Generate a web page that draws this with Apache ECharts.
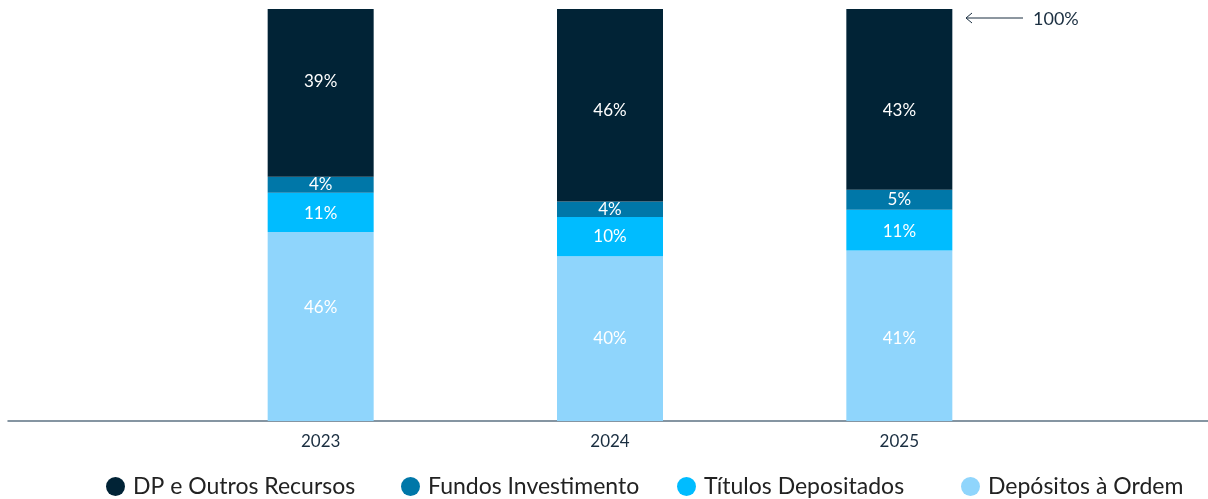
<!DOCTYPE html>
<html lang="pt">
<head>
  <meta charset="UTF-8">
  <title>Recursos</title>
  <script src="https://cdn.jsdelivr.net/npm/echarts@6/dist/echarts.min.js"></script>
</head>
<body style="margin:0">
  <div id="main" style="width:1208px;height:499px"></div>
  <script>
    // anos
    var years = ['2023', '2024', '2025']
    var depositosOrdem = [45.9, 40.0, 41.4]
    var titulosDepositados = [9.5, 9.5, 9.9]
    var fundosInvestimento = [3.9, 3.8, 4.8]
    var dpOutros = [40.7, 46.7, 43.9]
    var lblDepositos = ['46%', '40%', '41%']
    var lblTitulos = ['11%', '10%', '11%']
    var lblFundos = ['4%', '4%', '5%']
    var lblDp = ['39%', '46%', '43%']
    // deslocamento vertical dos rótulos (px), como no original
    var dyDepositos = [-19, 0, 3]
    var dyTitulos = [1, 0, 1]
    var dyFundos = [0, 0, 0]
    var dyDp = [-11, 5, 11]

    var font = 'Lato'
    var chart = echarts.init(document.getElementById('main'))

    function serie(name, data, labels, dy, color) {
      return {
        name: name,
        type: 'bar',
        stack: 'total',
        barWidth: 106,
        data: data.map(function (v, i) {
          return { value: v, label: { offset: [0, dy[i]] } }
        }),
        itemStyle: { color: color },
        label: {
          show: true,
          position: 'inside',
          color: '#fff',
          fontFamily: font,
          fontSize: 17,
          formatter: function (p) { return labels[p.dataIndex] }
        }
      }
    }

    function legenda(name, left) {
      return {
        data: [name],
        left: left,
        top: 475,
        padding: 0,
        icon: 'circle',
        itemWidth: 19,
        itemHeight: 19,
        textStyle: { fontFamily: font, fontSize: 23, color: '#222', padding: [0, 0, 0, 3] }
      }
    }

    var option = {
      animation: false,
      grid: [
        { left: 176, right: 164, top: 9, bottom: 78 },
        { left: 8, right: 0, top: 9, bottom: 78 }
      ],
      xAxis: [
        {
          type: 'category',
          data: years,
          gridIndex: 0,
          axisLine: { show: false },
          axisTick: { show: false },
          axisLabel: { fontFamily: font, fontSize: 17, color: '#1a2e40', margin: 12 }
        },
        {
          type: 'value',
          gridIndex: 1,
          axisLine: { show: true, lineStyle: { color: '#5e7384', width: 1.5 } },
          axisTick: { show: false },
          axisLabel: { show: false },
          splitLine: { show: false }
        }
      ],
      yAxis: [
        { type: 'value', min: 0, max: 100, show: false, gridIndex: 0 },
        { type: 'value', show: false, gridIndex: 1 }
      ],
      legend: [
        legenda('DP e Outros Recursos', 106),
        legenda('Fundos Investimento', 401),
        legenda('Títulos Depositados', 677),
        legenda('Depósitos à Ordem', 961)
      ],
      series: [
        serie('Depósitos à Ordem', depositosOrdem, lblDepositos, dyDepositos, '#8fd5fc'),
        serie('Títulos Depositados', titulosDepositados, lblTitulos, dyTitulos, '#00bcff'),
        serie('Fundos Investimento', fundosInvestimento, lblFundos, dyFundos, '#0077a8'),
        serie('DP e Outros Recursos', dpOutros, lblDp, dyDp, '#012336')
      ],
      graphic: [
        {
          type: 'line',
          shape: { x1: 966, y1: 18, x2: 1023, y2: 18 },
          style: { stroke: '#1a2e40', lineWidth: 1 }
        },
        {
          type: 'polyline',
          shape: { points: [[972, 13], [966, 18], [972, 23]] },
          style: { stroke: '#1a2e40', lineWidth: 1, fill: null }
        },
        {
          type: 'text',
          left: 1033,
          top: 10,
          style: { text: '100%', fontFamily: font, fontSize: 18, fill: '#1a2e40' }
        }
      ]
    }
    chart.setOption(option)
  </script>
</body>
</html>
